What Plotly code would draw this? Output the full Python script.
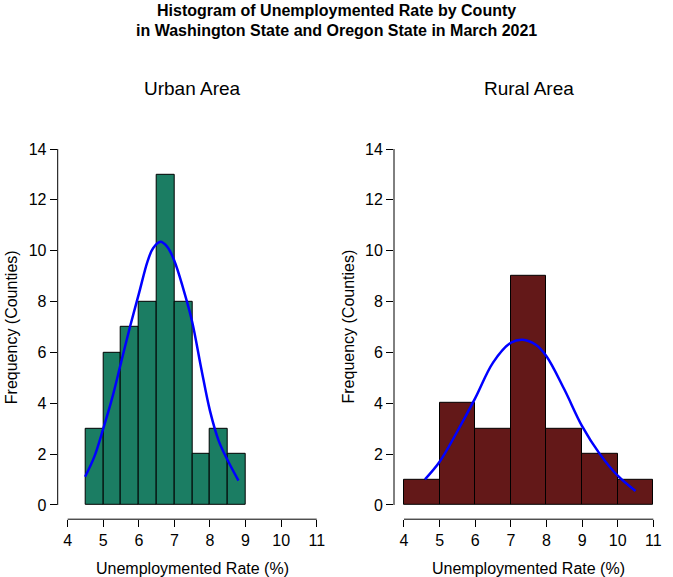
import plotly.graph_objects as go

# ---------------- data ----------------
urban_bin_left = [4.5, 5.0, 5.5, 6.0, 6.5, 7.0, 7.5, 8.0, 8.5]
urban_counts = [3, 6, 7, 8, 13, 8, 2, 3, 2]
urban_bin_width = 0.5

rural_bin_left = [4, 5, 6, 7, 8, 9, 10]
rural_counts = [1, 4, 3, 9, 3, 2, 1]
rural_bin_width = 1.0

# normal-curve overlays
urban_curve_x = [4.49, 4.75, 5.0, 5.25, 5.5, 5.75, 6.0, 6.25, 6.4, 6.61, 6.8, 7.0, 7.25, 7.5, 7.75, 8.0, 8.25, 8.5, 8.8]
urban_curve_y = [1.11, 1.9, 3.0, 4.2, 5.6, 7.0, 8.3, 9.6, 10.1, 10.35, 10.15, 9.6, 8.5, 7.2, 5.4, 3.7, 2.5, 1.75, 0.96]

rural_curve_x = [4.59, 5.0, 5.5, 6.0, 6.5, 7.0, 7.33, 7.7, 8.0, 8.5, 9.0, 9.5, 10.0, 10.5]
rural_curve_y = [1.01, 1.7, 2.9, 4.2, 5.6, 6.38, 6.5, 6.3, 5.85, 4.55, 3.1, 2.0, 1.15, 0.55]

x_ticks = [4, 5, 6, 7, 8, 9, 10, 11]
y_ticks = [0, 2, 4, 6, 8, 10, 12, 14]

main_title_1 = "Histogram of Unemploymented Rate by County"
main_title_2 = "in Washington State and Oregon State in March 2021"
panel_titles = ["Urban Area", "Rural Area"]
x_title = "Unemploymented Rate (%)"
y_title = "Frequency (Counties)"

urban_color = "#1b7d63"
rural_color = "#631818"
curve_color = "#0000ff"

# ---------------- layout geometry ----------------
W, H = 673, 577
FONT = "Liberation Sans, Arial, sans-serif"

def px_x(p):
    return p / W

def px_y(p):
    return 1 - p / H

plot_top, plot_bottom = 134.8, 519.2
panels = [
    dict(left=57.7, right=326.7),
    dict(left=394.0, right=663.3),
]

fig = go.Figure()

fig.add_trace(go.Bar(
    x=urban_bin_left, y=urban_counts, width=urban_bin_width, offset=0,
    marker=dict(color=urban_color, line=dict(color="black", width=1)),
    xaxis="x", yaxis="y", showlegend=False,
))
fig.add_trace(go.Scatter(
    x=urban_curve_x, y=urban_curve_y, mode="lines",
    line=dict(color=curve_color, width=2.5, shape="spline"),
    xaxis="x", yaxis="y", showlegend=False,
))
fig.add_trace(go.Bar(
    x=rural_bin_left, y=rural_counts, width=rural_bin_width, offset=0,
    marker=dict(color=rural_color, line=dict(color="black", width=1)),
    xaxis="x2", yaxis="y2", showlegend=False,
))
fig.add_trace(go.Scatter(
    x=rural_curve_x, y=rural_curve_y, mode="lines",
    line=dict(color=curve_color, width=2.5, shape="spline"),
    xaxis="x2", yaxis="y2", showlegend=False,
))

xmin, xmax = x_ticks[0], x_ticks[-1]
ymin, ymax = y_ticks[0], y_ticks[-1]
xpad = 0.04 * (xmax - xmin)
ypad = 0.04 * (ymax - ymin)

axis_common = dict(
    showgrid=False, zeroline=False, showline=False,
    ticks="outside", ticklen=7, tickwidth=1, tickcolor="black",
    tickfont=dict(family=FONT, size=16, color="black"),
)

layout = dict(
    width=W, height=H,
    margin=dict(l=0, r=0, t=0, b=0),
    paper_bgcolor="white", plot_bgcolor="white",
    bargap=0, showlegend=False,
    font=dict(family=FONT, color="black"),
)

annotations = []
shapes = []
for i, pnl in enumerate(panels):
    sfx = "" if i == 0 else str(i + 1)
    layout["xaxis" + sfx] = dict(
        axis_common,
        domain=[px_x(pnl["left"]), px_x(pnl["right"])],
        range=[xmin - xpad, xmax + xpad],
        tickvals=x_ticks, ticktext=[str(v) for v in x_ticks],
        anchor="y" + sfx,
    )
    layout["yaxis" + sfx] = dict(
        axis_common,
        domain=[px_y(plot_bottom), px_y(plot_top)],
        range=[ymin - ypad, ymax + ypad],
        tickvals=y_ticks, ticktext=[str(v) for v in y_ticks],
        anchor="x" + sfx,
    )
    # detached R-style axis lines
    shapes.append(dict(type="line", xref="x" + sfx, yref="y" + sfx + " domain",
                       x0=xmin, x1=xmax, y0=0, y1=0,
                       line=dict(color="black", width=1)))
    shapes.append(dict(type="line", xref="x" + sfx + " domain", yref="y" + sfx,
                       x0=0, x1=0, y0=ymin, y1=ymax,
                       line=dict(color="black", width=1)))
    cx = (pnl["left"] + pnl["right"]) / 2
    annotations.append(dict(text=panel_titles[i], x=px_x(cx), y=px_y(88),
                            xref="paper", yref="paper", showarrow=False,
                            xanchor="center", yanchor="middle",
                            font=dict(family=FONT, size=19, color="black")))
    annotations.append(dict(text=x_title, x=px_x(cx), y=px_y(568),
                            xref="paper", yref="paper", showarrow=False,
                            xanchor="center", yanchor="middle",
                            font=dict(family=FONT, size=16, color="black")))
    annotations.append(dict(text=y_title, x=px_x(pnl["left"] - 46.5),
                            y=px_y((plot_top + plot_bottom) / 2),
                            xref="paper", yref="paper", showarrow=False,
                            xanchor="center", yanchor="middle", textangle=-90,
                            font=dict(family=FONT, size=16, color="black")))

annotations.append(dict(text="<b>" + main_title_1 + "</b>", x=0.5, y=px_y(11),
                        xref="paper", yref="paper", showarrow=False,
                        xanchor="center", yanchor="middle",
                        font=dict(family=FONT, size=16, color="black")))
annotations.append(dict(text="<b>" + main_title_2 + "</b>", x=0.5, y=px_y(30.7),
                        xref="paper", yref="paper", showarrow=False,
                        xanchor="center", yanchor="middle",
                        font=dict(family=FONT, size=16, color="black")))

layout["annotations"] = annotations
layout["shapes"] = shapes
fig.update_layout(**layout)

fig.write_html("out.html",
               config={"displayModeBar": False},
               post_script="document.body.style.margin='0';document.body.style.overflow='hidden';")
